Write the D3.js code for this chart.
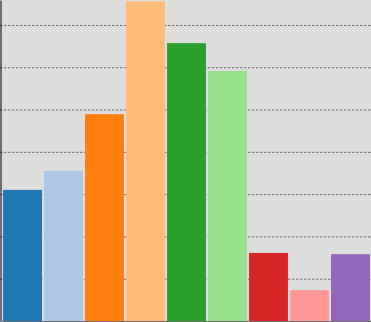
<!DOCTYPE html>
<html>
<head>
<meta charset="utf-8">
<script src="https://cdn.jsdelivr.net/npm/d3@7"></script>
<style>
    body { margin: 0; overflow: hidden; }
    svg { display: block; }
    .grid line { stroke: #707070; stroke-dasharray: 2.5, 1.5; }
    .grid .domain { display: none; }
</style>
</head>
<body>
<script>
// chart data
const categories = ['A', 'B', 'C', 'D', 'E', 'F', 'G', 'H', 'I']
const values = [31.0, 35.5, 48.9, 75.6, 65.7, 59.1, 16.1, 7.3, 15.8]
const colors = ['#1f77b4', '#aec7e8', '#ff7f0e', '#ffbb78', '#2ca02c', '#98df8a', '#d62728', '#ff9896', '#9467bd']
const yTicks = [10, 20, 30, 40, 50, 60, 70]

const width = 371
const height = 322
const baseline = 321

const svg = d3.select('body').append('svg')
    .attr('width', width)
    .attr('height', height)

svg.append('rect')
    .attr('width', width)
    .attr('height', height)
    .attr('fill', '#dddddd')

const xScale = d3.scaleBand()
    .domain(categories)
    .range([1, 372])
    .padding(0.05)

const yScale = d3.scaleLinear()
    .domain([0, 75.9])
    .range([baseline, 0])

// dashed gridlines behind the bars
svg.append('g')
    .attr('class', 'grid')
    .call(d3.axisLeft(yScale)
        .tickValues(yTicks)
        .tickSize(-width)
        .tickFormat(''))

svg.append('g')
    .selectAll('rect')
    .data(values)
    .enter().append('rect')
    .attr('x', (d, i) => xScale(categories[i]))
    .attr('y', d => yScale(d))
    .attr('width', xScale.bandwidth())
    .attr('height', d => yScale(0) - yScale(d))
    .attr('fill', (d, i) => colors[i])

// axis lines, no ticks or labels
svg.append('g')
    .attr('transform', `translate(0.5,0)`)
    .call(d3.axisLeft(yScale).tickValues([]).tickSizeOuter(0))

svg.append('g')
    .attr('transform', `translate(0,${baseline + 0.5})`)
    .call(d3.axisBottom(xScale).tickValues([]).tickSizeOuter(0))
</script>
</body>
</html>
